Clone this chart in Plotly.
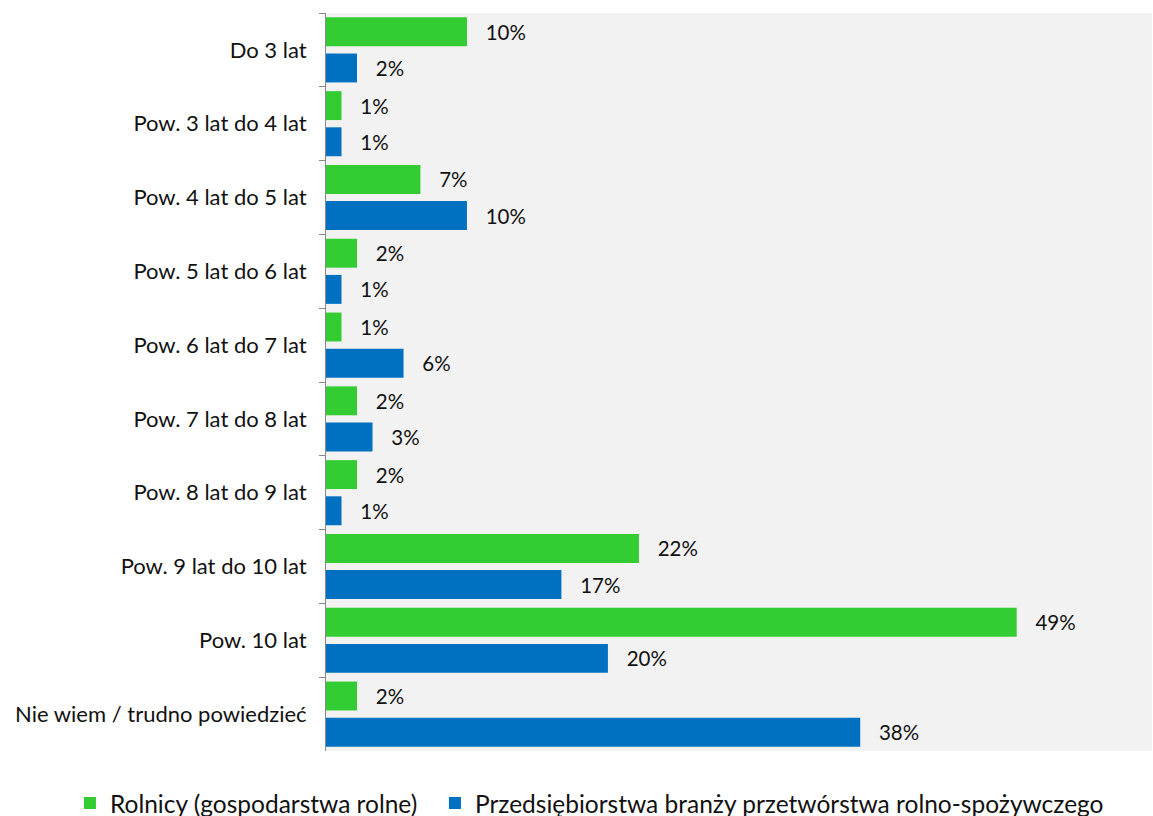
import plotly.graph_objects as go

categories = ["Do 3 lat", "Pow. 3 lat do 4 lat", "Pow. 4 lat do 5 lat", "Pow. 5 lat do 6 lat",
              "Pow. 6 lat do 7 lat", "Pow. 7 lat do 8 lat", "Pow. 8 lat do 9 lat",
              "Pow. 9 lat do 10 lat", "Pow. 10 lat", "Nie wiem / trudno powiedzieć"]
rolnicy = [10.0, 1.1, 6.7, 2.2, 1.1, 2.2, 2.2, 22.2, 49.0, 2.2]
przedsiebiorstwa = [2.2, 1.1, 10.0, 1.1, 5.5, 3.3, 1.1, 16.7, 20.0, 37.9]
series_names = ["Rolnicy (gospodarstwa rolne)",
                "Przedsiębiorstwa branży przetwórstwa rolno-spożywczego"]
colors = ["#33CC33", "#0070C0"]

FONT = "Lato, 'Open Sans', sans-serif"
pad = "\u00a0" * 3

fig = go.Figure()
for i, (name, vals, col) in enumerate(zip(series_names, [rolnicy, przedsiebiorstwa], colors)):
    fig.add_trace(go.Bar(
        y=categories, x=vals, name=name, orientation="h",
        marker=dict(color=col, line=dict(width=0)),
        texttemplate=pad + "%{x:.0f}%", textposition="outside",
        textfont=dict(family=FONT, size=20.5, color="#111111"),
        cliponaxis=False,
        legendwidth=320 if i == 0 else None,
    ))

fig.update_layout(
    width=1153, height=816,
    margin=dict(l=326, r=1, t=13, b=65, autoexpand=False),
    paper_bgcolor="white", plot_bgcolor="#F2F2F2",
    barmode="group", bargap=0.02, bargroupgap=0.2,
    font=dict(family=FONT, size=22, color="#111111"),
    showlegend=True,
    legend=dict(orientation="h", x=-0.31, xanchor="left", y=-0.04, yanchor="top",
                font=dict(family=FONT, size=24.5, color="#111111"),
                traceorder="normal", itemwidth=30),
)
fig.update_xaxes(range=[0, 58.6], visible=False, showgrid=False, zeroline=False)
fig.update_yaxes(autorange="reversed", type="category", showgrid=False, zeroline=False,
                 showline=True, linecolor="#888888", linewidth=1,
                 ticks="outside", tickson="boundaries", ticklen=6, tickcolor="#888888",
                 ticklabelstandoff=14,
                 tickfont=dict(family=FONT, size=22, color="#111111"))

fig.write_html("out.html", config={"displayModeBar": False},
               post_script="document.body.style.margin='0';")
